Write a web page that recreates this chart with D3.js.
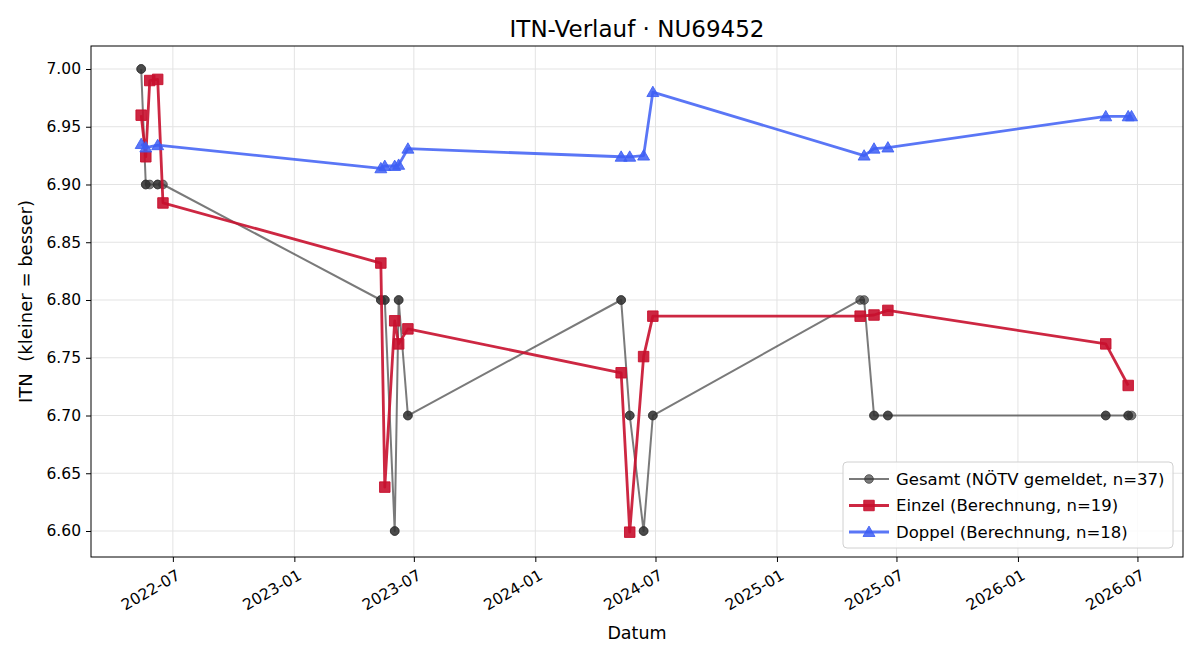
<!DOCTYPE html>
<html>
<head>
<meta charset="utf-8">
<script src="https://cdn.jsdelivr.net/npm/d3@7"></script>
<style>
  body { margin: 0; background: #fff; }
  svg text { font-family: "DejaVu Sans", sans-serif; }
</style>
</head>
<body>
<script>
// ITN history, overall vs. singles/doubles calculation

const gesamtDates = [
  "2022-05-14", "2022-05-14", "2022-05-21", "2022-05-21", "2022-05-27", "2022-06-08", "2022-06-08", "2022-06-16",
  "2023-05-12", "2023-05-12", "2023-05-18", "2023-05-18", "2023-06-02", "2023-06-02", "2023-06-08", "2023-06-08", "2023-06-22", "2023-06-22",
  "2024-05-10", "2024-05-10", "2024-05-23", "2024-05-23", "2024-06-13", "2024-06-13", "2024-06-27", "2024-06-27",
  "2025-05-07", "2025-05-13", "2025-05-28", "2025-05-28", "2025-06-18", "2025-06-18",
  "2026-05-14", "2026-05-14", "2026-06-17", "2026-06-17", "2026-06-22"
];
const gesamtValues = [
  7.00, 7.00, 6.90, 6.90, 6.90, 6.90, 6.90, 6.90,
  6.80, 6.80, 6.80, 6.80, 6.60, 6.60, 6.80, 6.80, 6.70, 6.70,
  6.80, 6.80, 6.70, 6.70, 6.60, 6.60, 6.70, 6.70,
  6.80, 6.80, 6.70, 6.70, 6.70, 6.70,
  6.70, 6.70, 6.70, 6.70, 6.70
];

const einzelDates = [
  "2022-05-14", "2022-05-21", "2022-05-27", "2022-06-08", "2022-06-16",
  "2023-05-12", "2023-05-18", "2023-06-02", "2023-06-08", "2023-06-22",
  "2024-05-10", "2024-05-23", "2024-06-13", "2024-06-27",
  "2025-05-07", "2025-05-28", "2025-06-18",
  "2026-05-14", "2026-06-17"
];
const einzelValues = [
  6.960, 6.924, 6.990, 6.991, 6.884,
  6.832, 6.638, 6.782, 6.762, 6.775,
  6.737, 6.599, 6.751, 6.786,
  6.786, 6.787, 6.791,
  6.762, 6.726
];

const doppelDates = [
  "2022-05-14", "2022-05-21", "2022-06-08",
  "2023-05-12", "2023-05-18", "2023-06-02", "2023-06-08", "2023-06-22",
  "2024-05-10", "2024-05-23", "2024-06-13", "2024-06-27",
  "2025-05-13", "2025-05-28", "2025-06-18",
  "2026-05-14", "2026-06-17", "2026-06-22"
];
const doppelValues = [
  6.935, 6.932, 6.934,
  6.914, 6.916, 6.916, 6.917, 6.931,
  6.924, 6.924, 6.925, 6.980,
  6.925, 6.931, 6.932,
  6.959, 6.959, 6.959
];

const xTickLabels = ["2022-07", "2023-01", "2023-07", "2024-01", "2024-07", "2025-01", "2025-07", "2026-01", "2026-07"];
const yTickValues = [6.60, 6.65, 6.70, 6.75, 6.80, 6.85, 6.90, 6.95, 7.00];

const parseDay = d3.utcParse("%Y-%m-%d");
const parseMonth = d3.utcParse("%Y-%m");
const zip = (dates, values) => dates.map((d, i) => ({ date: parseDay(d), value: values[i] }));

const series = [
  { name: "Gesamt (NÖTV gemeldet, n=37)", data: zip(gesamtDates, gesamtValues), color: "#333333", opacity: 0.65, width: 2, marker: "circle", size: 60 },
  { name: "Einzel (Berechnung, n=19)", data: zip(einzelDates, einzelValues), color: "#c8102e", opacity: 0.9, width: 2.8, marker: "square", size: 110 },
  { name: "Doppel (Berechnung, n=18)", data: zip(doppelDates, doppelValues), color: "#3d5ef5", opacity: 0.85, width: 2.8, marker: "triangle", size: 62 }
];

const svgWidth = 1200, svgHeight = 660;
const plotLeft = 91, plotRight = 1183, plotTop = 46, plotBottom = 557;
const tickFont = "15.5px";

const svg = d3.select("body").append("svg")
  .attr("width", svgWidth)
  .attr("height", svgHeight);

const xScale = d3.scaleUtc()
  .domain([parseDay("2022-02-27"), parseDay("2026-09-08")])
  .range([plotLeft, plotRight]);

const yScale = d3.scaleLinear()
  .domain([6.5775, 7.0199])
  .range([plotBottom, plotTop]);

// grid
const grid = svg.append("g").attr("stroke", "#e3e3e3").attr("stroke-width", 1);
grid.selectAll(".gx").data(xTickLabels).enter().append("line")
  .attr("x1", d => xScale(parseMonth(d))).attr("x2", d => xScale(parseMonth(d)))
  .attr("y1", plotTop).attr("y2", plotBottom);
grid.selectAll(".gy").data(yTickValues).enter().append("line")
  .attr("x1", plotLeft).attr("x2", plotRight)
  .attr("y1", d => yScale(d)).attr("y2", d => yScale(d));

// axes: d3 draws the tick marks, labels are added by hand
const xAxis = d3.axisBottom(xScale)
  .tickValues(xTickLabels.map(parseMonth))
  .tickFormat("")
  .tickSizeOuter(0)
  .tickSize(5);

const yAxis = d3.axisLeft(yScale)
  .tickValues(yTickValues)
  .tickFormat("")
  .tickSizeOuter(0)
  .tickSize(5);

const gx = svg.append("g")
  .attr("transform", `translate(0,${plotBottom})`)
  .call(xAxis);
gx.select(".domain").remove();
gx.selectAll(".tick line").attr("stroke", "#000");

const gy = svg.append("g")
  .attr("transform", `translate(${plotLeft},0)`)
  .call(yAxis);
gy.select(".domain").remove();
gy.selectAll(".tick line").attr("stroke", "#000");

svg.append("g").selectAll("text")
  .data(xTickLabels)
  .enter()
  .append("text")
  .attr("transform", d => `translate(${xScale(parseMonth(d)) + 3},${plotBottom + 12}) rotate(-30)`)
  .attr("text-anchor", "end")
  .attr("dy", "0.7em")
  .style("font-size", tickFont)
  .text(d => d);

svg.append("g").selectAll("text")
  .data(yTickValues)
  .enter()
  .append("text")
  .attr("x", plotLeft - 10)
  .attr("y", d => yScale(d))
  .attr("dy", "0.35em")
  .attr("text-anchor", "end")
  .style("font-size", tickFont)
  .text(d => d3.format(".2f")(d));

// series
const symbolType = { circle: d3.symbolCircle, square: d3.symbolSquare, triangle: d3.symbolTriangle };
const line = d3.line().x(d => xScale(d.date)).y(d => yScale(d.value));

series.forEach(s => {
  const g = svg.append("g");
  g.append("path")
    .datum(s.data)
    .attr("d", line)
    .attr("fill", "none")
    .attr("stroke", s.color)
    .attr("stroke-opacity", s.opacity)
    .attr("stroke-width", s.width)
    .attr("stroke-linejoin", "round");
  g.selectAll("path.mark")
    .data(s.data)
    .enter()
    .append("path")
    .attr("class", "mark")
    .attr("d", d3.symbol().type(symbolType[s.marker]).size(s.size))
    .attr("transform", d => `translate(${xScale(d.date)},${yScale(d.value) + (s.marker === "triangle" ? 1 : 0)})`)
    .attr("fill", s.color)
    .attr("fill-opacity", s.opacity)
    .attr("stroke", s.color)
    .attr("stroke-opacity", s.opacity)
    .attr("stroke-width", 1);
});

// frame
svg.append("rect")
  .attr("x", plotLeft).attr("y", plotTop)
  .attr("width", plotRight - plotLeft).attr("height", plotBottom - plotTop)
  .attr("fill", "none").attr("stroke", "#000").attr("stroke-width", 1);

// titles
svg.append("text")
  .attr("x", (plotLeft + plotRight) / 2).attr("y", 37)
  .attr("text-anchor", "middle")
  .style("font-size", "23px")
  .text("ITN-Verlauf · NU69452");

svg.append("text")
  .attr("x", (plotLeft + plotRight) / 2).attr("y", 639)
  .attr("text-anchor", "middle")
  .style("font-size", "17.5px")
  .text("Datum");

svg.append("text")
  .attr("transform", `translate(32,${(plotTop + plotBottom) / 2}) rotate(-90)`)
  .attr("text-anchor", "middle")
  .style("font-size", "18px")
  .style("white-space", "pre")
  .text("ITN  (kleiner = besser)");

// legend
const legend = svg.append("g").attr("transform", "translate(843,462)");
legend.append("rect")
  .attr("width", 330).attr("height", 86)
  .attr("rx", 4)
  .attr("fill", "#fff").attr("fill-opacity", 0.85)
  .attr("stroke", "#d0d0d0");

series.forEach((s, i) => {
  const y = 17 + i * 26.5;
  const row = legend.append("g").attr("transform", `translate(0,${y})`);
  row.append("line")
    .attr("x1", 6).attr("x2", 46)
    .attr("stroke", s.color).attr("stroke-opacity", s.opacity)
    .attr("stroke-width", s.width);
  row.append("path")
    .attr("d", d3.symbol().type(symbolType[s.marker]).size(s.size))
    .attr("transform", `translate(26,${s.marker === "triangle" ? 1 : 0})`)
    .attr("fill", s.color).attr("fill-opacity", s.opacity)
    .attr("stroke", s.color).attr("stroke-opacity", s.opacity);
  row.append("text")
    .attr("x", 53).attr("dy", "0.35em")
    .style("font-size", "16.5px")
    .text(s.name);
});
</script>
</body>
</html>
